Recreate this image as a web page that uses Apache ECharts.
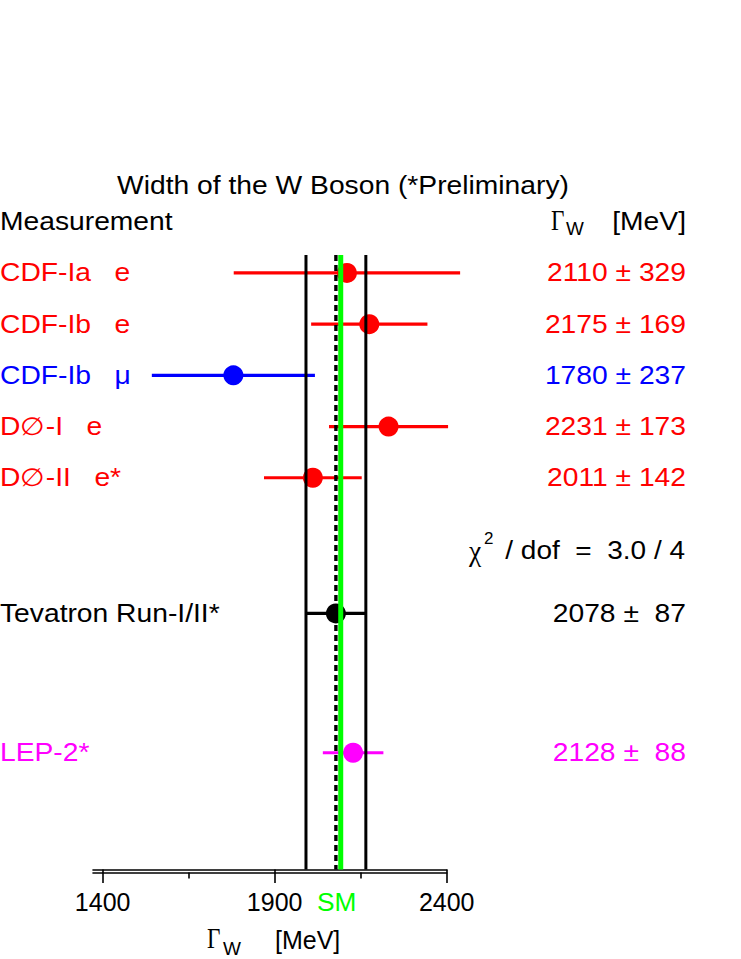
<!DOCTYPE html>
<html><head><meta charset="utf-8">
<script src="https://cdn.jsdelivr.net/npm/echarts@6/dist/echarts.min.js"></script>
<style>html,body{margin:0;padding:0;background:#fff}#c{width:741px;height:959px}</style>
</head><body><div id="c"></div>
<script>
// ---------- data ----------
const measurements = ['CDF-Ia   e', 'CDF-Ib   e', 'CDF-Ib   \u03bc', 'D\u2205-I   e', 'D\u2205-II   e*', 'Tevatron Run-I/II*', 'LEP-2*'];
const widthValues = [2110, 2175, 1780, 2231, 2011, 2078, 2128];
const widthErrors = [329, 169, 237, 173, 142, 87, 88];
const rowSlots = [0.35, 1.35, 2.35, 3.35, 4.35, 7.0, 9.72];
const combinedIndex = 5;
const smWidth = 2092;
const chi2Value = '3.0';
const chi2Dof = '4';
const xMajorTicks = [1400, 1900, 2400];
const xMinorTicks = [1650, 2150];
const xRange = [1372, 2400];
const yRange = [0, 12];

// ---------- styles ----------
const rowColors = ['#ff0000', '#ff0000', '#0000ff', '#ff0000', '#ff0000', '#000000', '#ff00ff'];
const FONT = '"Liberation Sans", Arial, Helvetica, sans-serif';
const SERIF = '"Liberation Serif", "DejaVu Serif", serif';
const STRETCH = 1.13;
const FS = 25;

function T(x, y, text, o) {
  o = o || {};
  return {
    type: 'text', x: x, y: y, scaleX: o.sx || 1, z: 20,
    style: {
      text: text, fill: o.color || '#000',
      fontSize: o.size || FS, fontFamily: o.family || FONT,
      textAlign: o.align || 'left', align: o.align || 'left',
      textVerticalAlign: 'middle', verticalAlign: 'middle'
    }
  };
}

function fmt(v, e) {
  return v + ' \u00b1 ' + String(e).padStart(3, ' ');
}

const rowData = widthValues.map((v, i) => [v, widthErrors[i], rowSlots[i], i]);
const comb = widthValues[combinedIndex], combErr = widthErrors[combinedIndex];
const vlineData = [[comb - combErr, 0], [comb + combErr, 0], [comb, 1], [smWidth, 2]];

function renderRow(params, api) {
  const v = api.value(0), e = api.value(1), s = api.value(2), i = api.value(3);
  const c = rowColors[i];
  const p0 = api.coord([v - e, s]), p1 = api.coord([v + e, s]), pc = api.coord([v, s]);
  return {
    type: 'group', children: [
      { type: 'line', shape: { x1: p0[0], y1: p0[1], x2: p1[0], y2: p1[1] }, style: { stroke: c, lineWidth: 3.2 } },
      { type: 'circle', shape: { cx: pc[0], cy: pc[1], r: 10 }, style: { fill: c } },
      T(0, pc[1], measurements[i], { color: c, sx: STRETCH }),
      T(686, pc[1], fmt(widthValues[i], widthErrors[i]), { color: c, sx: 1.13, align: 'right' })
    ]
  };
}

function renderVLine(params, api) {
  const x = api.value(0), kind = api.value(1);
  const top = api.coord([x, yRange[0]]), bot = api.coord([x, yRange[1]]);
  const styles = [
    { stroke: '#000', lineWidth: 3 },
    { stroke: '#000', lineWidth: 3.4, lineDash: [6, 4] },
    { stroke: '#00ff00', lineWidth: 5 }
  ];
  const children = [{ type: 'line', shape: { x1: top[0], y1: top[1], x2: bot[0], y2: bot[1] }, style: styles[kind] }];
  if (kind === 2) {
    children.push(T(bot[0] - 4, bot[1] + 32.5, 'SM', { color: '#00ff00', align: 'center', sx: 1.05 }));
  }
  return { type: 'group', children: children };
}

const chart = echarts.init(document.getElementById('c'), null, { renderer: 'svg' });
const axisLineStyle = { color: '#000', width: 1.6 };
chart.setOption({
  animation: false,
  backgroundColor: '#fff',
  grid: { left: 93, right: 294.3, top: 255, bottom: 89.5 },
  xAxis: [{
    type: 'value', min: xRange[0], max: xRange[1], position: 'bottom',
    axisLine: { show: true, onZero: false, lineStyle: axisLineStyle },
    axisTick: { show: true, customValues: xMajorTicks, length: 13.5, lineStyle: axisLineStyle },
    axisLabel: { show: true, customValues: xMajorTicks, formatter: v => String(v), fontSize: 25, fontFamily: FONT, color: '#000', margin: 32, verticalAlign: 'middle' },
    splitLine: { show: false }
  }, {
    type: 'value', min: xRange[0], max: xRange[1], position: 'bottom', offset: 3,
    axisLine: { show: true, onZero: false, lineStyle: axisLineStyle },
    axisTick: { show: true, customValues: xMinorTicks, length: 6, lineStyle: axisLineStyle },
    axisLabel: { show: false },
    splitLine: { show: false }
  }],
  yAxis: { type: 'value', min: yRange[0], max: yRange[1], inverse: true, show: false },
  series: [{
    type: 'custom', xAxisIndex: 0, clip: false, z: 2,
    encode: { x: 0, y: 2 },
    renderItem: renderRow, data: rowData
  }, {
    type: 'custom', xAxisIndex: 0, clip: false, z: 5,
    encode: { x: 0 },
    renderItem: renderVLine, data: vlineData
  }],
  graphic: [
    T(343, 186, 'Width of the W Boson (*Preliminary)', { sx: 1.13, align: 'center' }),
    T(0, 222, 'Measurement', { sx: STRETCH }),
    T(551, 221, '\u0393', { family: SERIF, size: 29, sx: 0.8 }),
    T(566, 229, 'W', { size: 18, sx: 1.05 }),
    T(686, 222, '[MeV]', { sx: STRETCH, align: 'right' }),
    T(469, 551, '\u03c7', { family: SERIF, size: 29, sx: 0.95 }),
    T(484, 538, '2', { size: 17 }),
    T(685, 551, '/ dof  =  ' + chi2Value + ' / ' + chi2Dof, { sx: 1.12, align: 'right' }),
    T(207, 939, '\u0393', { family: SERIF, size: 29, sx: 0.8 }),
    T(223, 948, 'W', { size: 19 }),
    T(275, 940, '[MeV]', { size: 25 })
  ]
});
</script>
</body></html>
